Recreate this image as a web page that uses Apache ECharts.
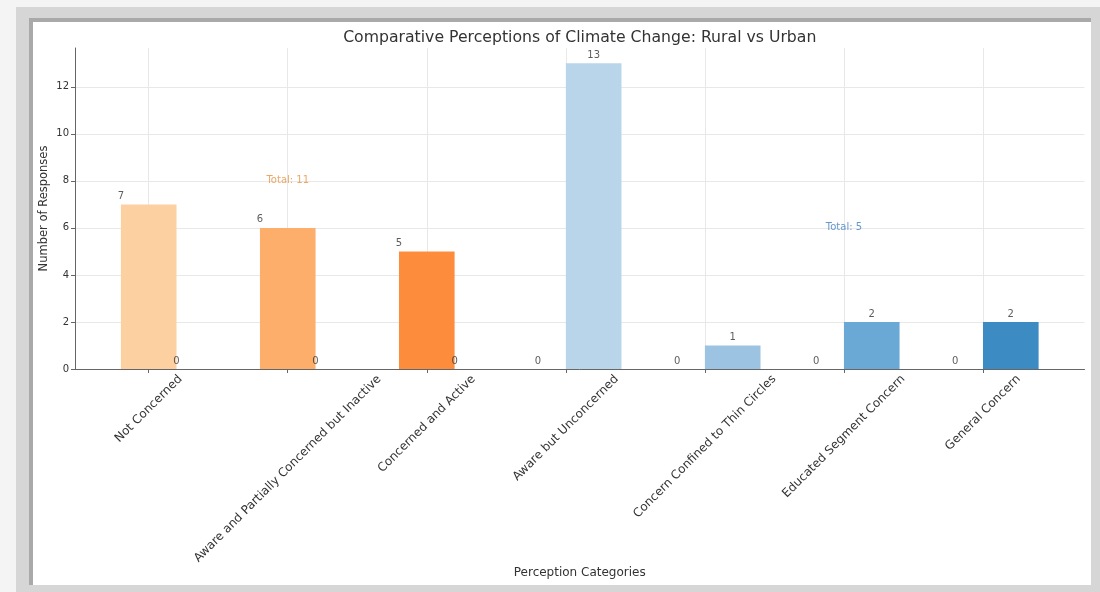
<!DOCTYPE html>
<html><head><meta charset="utf-8">
<script src="https://cdn.jsdelivr.net/npm/echarts@6/dist/echarts.min.js"></script>
<style>html,body{margin:0;padding:0;background:#f4f4f4}#c{width:1100px;height:592px}</style>
</head><body><div id="c"></div>
<script>
// ---- data ----
const categories = ['Not Concerned','Aware and Partially Concerned but Inactive','Concerned and Active','Aware but Unconcerned','Concern Confined to Thin Circles','Educated Segment Concern','General Concern'];
const ruralValues = [7, 6, 5, 0, 0, 0, 0];
const urbanValues = [0, 0, 0, 13, 1, 2, 2];
const yTicks = [0, 2, 4, 6, 8, 10, 12];
const ruralTotalLabel = 'Total: 11';
const urbanTotalLabel = 'Total: 5';
const ruralTotalAt = [1, 8];
const urbanTotalAt = [5, 6];
const titleText = 'Comparative Perceptions of Climate Change: Rural vs Urban';

// ---- styles / geometry ----
const barColors = ['#fdd0a2','#fdae6b','#fd8d3c','#b9d5ea','#9cc4e2','#6aa9d6','#3d8bc3'];
const barW = 0.4;
const ruralBar = [-barW/2, barW/2];   // relative to category position
const urbanBar = [0, barW];
const ruralLabelOffset = -barW/2;
const urbanLabelOffset = barW/2;
const FONT = 'DejaVu Sans';
const tickFont = 12;
const titleFont = 15.7;
const catIdx = categories.map((c, i) => i);
const gridLeft = 75, gridRight = 15.5;
const plotCenter = gridLeft + (1100 - gridLeft - gridRight) / 2;

const ctx = document.createElement('canvas').getContext('2d');
ctx.font = tickFont + 'px "' + FONT + '"';
const rich = {};
categories.forEach((c, i) => {
  const L = ctx.measureText(c).width;
  const P = (L + tickFont) / 2;
  rich['c' + i] = {fontSize: tickFont, fontFamily: FONT, color: '#333', padding: [P, P, 0, 0]};
});
ctx.font = titleFont + 'px "' + FONT + '"';
const titleW = ctx.measureText(titleText).width;

function barRender(range) {
  return function (params, api) {
    const i = api.value(0), v = api.value(1);
    const a = api.coord([i + range[0], v]);
    const b = api.coord([i + range[1], 0]);
    return {type: 'rect', shape: {x: a[0], y: a[1], width: b[0] - a[0], height: b[1] - a[1]},
            style: {fill: barColors[i]}};
  };
}

const chart = echarts.init(document.getElementById('c'));
chart.setOption({
  backgroundColor: '#f4f4f4',
  animation: false,
  graphic: [
    {type: 'rect', z: -100, shape: {x: 16, y: 7, width: 1084, height: 585}, style: {fill: '#d6d6d6'}},
    {type: 'rect', z: -99, shape: {x: 29, y: 18, width: 1062, height: 567}, style: {fill: '#a9a9a9'}},
    {type: 'rect', z: -98, shape: {x: 33, y: 22, width: 1058, height: 563}, style: {fill: '#ffffff'}}
  ],
  title: {
    text: titleText,
    left: plotCenter - titleW / 2, top: 30, padding: 0,
    textStyle: {fontFamily: FONT, fontSize: titleFont, fontWeight: 'normal', color: '#333'}
  },
  grid: {left: gridLeft, right: gridRight, top: 48, bottom: 223},
  xAxis: {
    type: 'value', min: -0.53, max: 6.73,
    name: 'Perception Categories', nameLocation: 'middle', nameGap: 198, nameMoveOverlap: false,
    nameTextStyle: {fontFamily: FONT, fontSize: 12, color: '#333'},
    axisLine: {show: true, onZero: false, lineStyle: {color: '#666', width: 1}},
    axisTick: {show: true, customValues: catIdx, length: 4, lineStyle: {color: '#666'}},
    axisLabel: {
      customValues: catIdx, rotate: 45, align: 'center', verticalAlign: 'middle', margin: 4,
      formatter: v => '{c' + v + '|' + categories[v] + '}', rich: rich
    },
    splitLine: {show: true, lineStyle: {color: '#e8e8e8', width: 1}}
  },
  yAxis: {
    type: 'value', min: 0, max: 13.65,
    name: 'Number of Responses', nameLocation: 'middle', nameGap: 25, nameMoveOverlap: false,
    nameTextStyle: {fontFamily: FONT, fontSize: 11.5, color: '#333'},
    axisLine: {show: true, onZero: false, lineStyle: {color: '#666', width: 1}},
    axisTick: {show: true, customValues: yTicks, length: 4, lineStyle: {color: '#666'}},
    axisLabel: {customValues: yTicks, fontFamily: FONT, fontSize: 10, color: '#333', margin: 6},
    splitLine: {show: true, lineStyle: {color: '#e8e8e8', width: 1}}
  },
  series: [
    {type: 'custom', name: 'Rural', renderItem: barRender(ruralBar), data: ruralValues.map((v, i) => [i, v]), clip: false, z: 2},
    {type: 'custom', name: 'Urban', renderItem: barRender(urbanBar), data: urbanValues.map((v, i) => [i, v]), clip: false, z: 2},
    {type: 'scatter', symbolSize: 0, z: 5, silent: true,
     data: ruralValues.map((v, i) => [i + ruralLabelOffset, v]),
     label: {show: true, position: 'top', distance: 3, fontFamily: FONT, fontSize: 10, color: '#333', formatter: p => p.value[1]}},
    {type: 'scatter', symbolSize: 0, z: 5, silent: true,
     data: urbanValues.map((v, i) => [i + urbanLabelOffset, v]),
     label: {show: true, position: 'top', distance: 3, fontFamily: FONT, fontSize: 10, color: '#333', formatter: p => p.value[1]}},
    {type: 'scatter', symbolSize: 0, z: 5, silent: true,
     data: [ruralTotalAt],
     label: {show: true, position: 'inside', fontFamily: FONT, fontSize: 10, color: '#e8913f', formatter: () => ruralTotalLabel}},
    {type: 'scatter', symbolSize: 0, z: 5, silent: true,
     data: [urbanTotalAt],
     label: {show: true, position: 'inside', fontFamily: FONT, fontSize: 10, color: '#3f7fbf', formatter: () => urbanTotalLabel}}
  ]
});
</script></body></html>
